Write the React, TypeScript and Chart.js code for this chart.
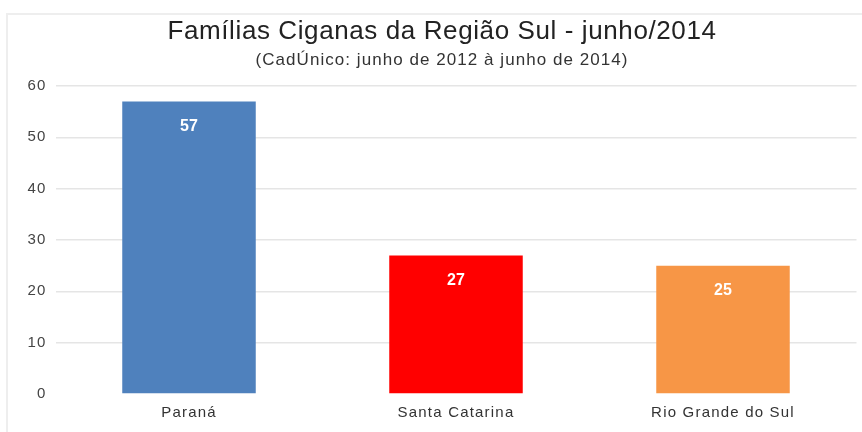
import React, { useEffect, useRef } from "react";
import { Chart, registerables } from "chart.js";

Chart.register(...registerables);

const categories = ["Paraná", "Santa Catarina", "Rio Grande do Sul"];
const values = [57, 27, 25];
const barColors = ["#4F81BD", "#FF0000", "#F79646"];
const yTicks = [0, 10, 20, 30, 40, 50, 60];
const titleText = "Famílias Ciganas da Região Sul - junho/2014";
const subtitleText = "(CadÚnico: junho de 2012 à junho de 2014)";

const FONT = "'Liberation Sans', Arial, sans-serif";

const spacingPlugin = {
  id: "tickSpacing",
  beforeDraw(chart: any) {
    (chart.ctx as any).letterSpacing = "1.2px";
  },
  afterDraw(chart: any) {
    (chart.ctx as any).letterSpacing = "0px";
  },
};

const titlePlugin = {
  id: "titles",
  afterDraw(chart: any) {
    const ctx = chart.ctx as any;
    ctx.save();
    ctx.textAlign = "center";
    ctx.textBaseline = "alphabetic";
    ctx.fillStyle = "#222222";
    ctx.letterSpacing = "0.6px";
    ctx.font = `26px ${FONT}`;
    ctx.fillText(titleText, 442, 39);
    ctx.fillStyle = "#333333";
    ctx.letterSpacing = "1.05px";
    ctx.font = `17px ${FONT}`;
    ctx.fillText(subtitleText, 442, 65);
    ctx.restore();
  },
};

const labelPlugin = {
  id: "barLabels",
  afterDatasetsDraw(chart: any) {
    const ctx = chart.ctx as any;
    const meta = chart.getDatasetMeta(0);
    ctx.save();
    ctx.letterSpacing = "0px";
    ctx.fillStyle = "#ffffff";
    ctx.font = `bold 16px ${FONT}`;
    ctx.textAlign = "center";
    ctx.textBaseline = "middle";
    meta.data.forEach((bar: any, i: number) => {
      ctx.fillText(String(values[i]), bar.x, bar.y + 25);
    });
    ctx.restore();
  },
};

export default function App() {
  const ref = useRef<HTMLCanvasElement | null>(null);
  useEffect(() => {
    if (!ref.current) return;
    const chart = new Chart(ref.current, {
      type: "bar",
      data: {
        labels: categories,
        datasets: [
          {
            data: values,
            backgroundColor: barColors,
            borderWidth: 0,
            barPercentage: 0.5,
            categoryPercentage: 1,
          },
        ],
      },
      options: {
        animation: false,
        responsive: false,
        maintainAspectRatio: false,
        layout: { padding: { left: 0, right: 5.5, top: 86, bottom: 0 } },
        plugins: {
          legend: { display: false },
          tooltip: { enabled: false },
          title: { display: false },
        },
        scales: {
          x: {
            grid: { display: false, drawTicks: false },
            border: { display: false },
            ticks: { color: "#333333", font: { family: FONT, size: 15 }, padding: 10 },
            afterFit: (s: any) => {
              s.height = 38;
            },
          },
          y: {
            min: 0,
            max: 60,
            afterBuildTicks: (s: any) => {
              s.ticks = yTicks.map((v) => ({ value: v }));
            },
            grid: {
              drawTicks: false,
              color: (c: any) => (c.tick && c.tick.value === 0 ? "rgba(0,0,0,0)" : "#e5e5e5"),
              lineWidth: 1.5,
            },
            border: { display: false },
            ticks: { color: "#444444", font: { family: FONT, size: 15 }, padding: 9 },
            afterFit: (s: any) => {
              s.width = 55.5;
            },
          },
        },
      },
      plugins: [spacingPlugin, labelPlugin, titlePlugin],
    });
    return () => chart.destroy();
  }, []);
  return (
    <div style={{ position: "fixed", left: 0, top: 0, width: 862, height: 432, background: "#fff" }}>
      <div
        style={{
          position: "absolute",
          left: 6,
          top: 13,
          right: 0,
          bottom: 0,
          borderLeft: "2px solid #eeeeee",
          borderTop: "2px solid #eeeeee",
        }}
      />
      <canvas ref={ref} width={862} height={432} style={{ position: "absolute", left: 0, top: 0 }} />
    </div>
  );
}
